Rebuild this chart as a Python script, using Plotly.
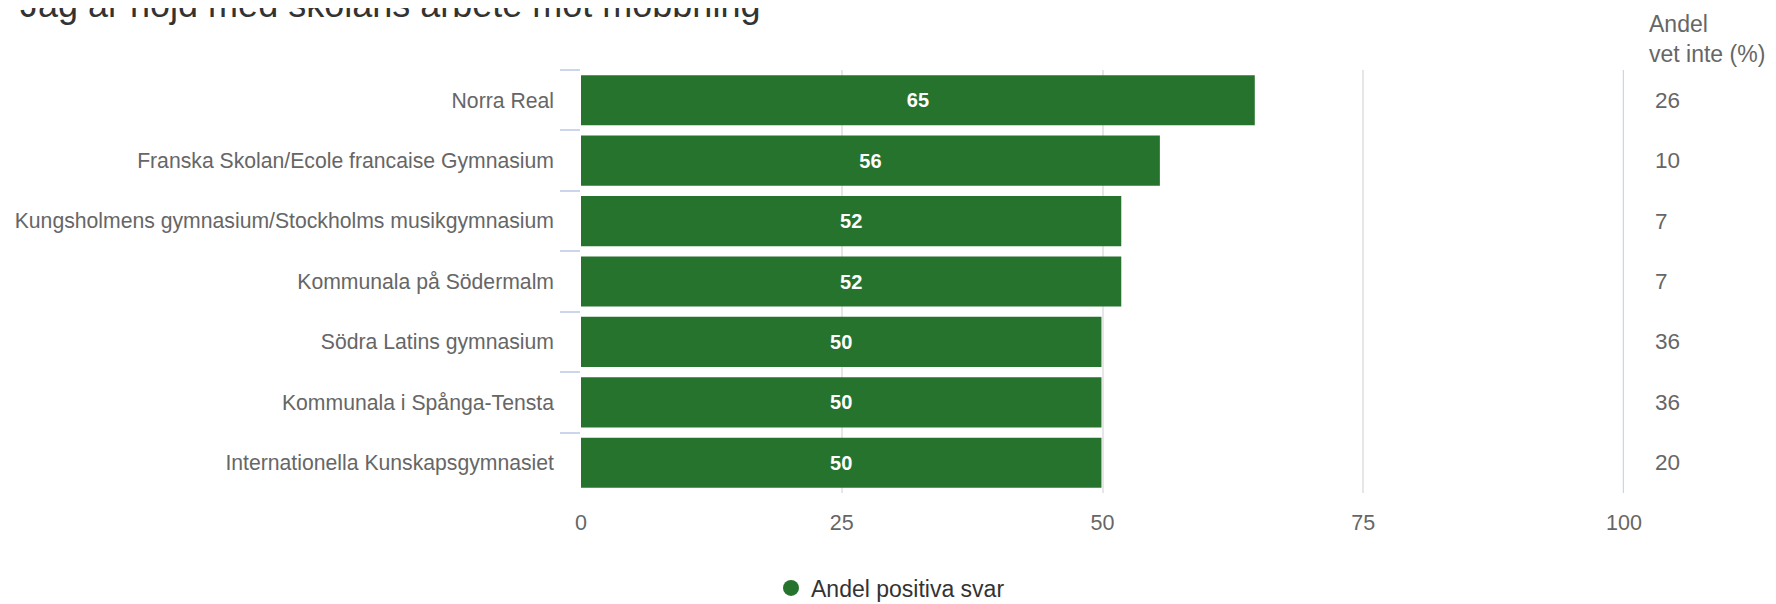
import plotly.graph_objects as go

# ---- data ----
schools = [
    "Norra Real",
    "Franska Skolan/Ecole francaise Gymnasium",
    "Kungsholmens gymnasium/Stockholms musikgymnasium",
    "Kommunala på Södermalm",
    "Södra Latins gymnasium",
    "Kommunala i Spånga-Tensta",
    "Internationella Kunskapsgymnasiet",
]
positive = [64.6, 55.5, 51.8, 51.8, 49.9, 49.9, 49.9]      # bar lengths as drawn
positive_labels = [65, 56, 52, 52, 50, 50, 50]            # rounded labels shown
dont_know = [26, 10, 7, 7, 36, 36, 20]
x_ticks = [0, 25, 50, 75, 100]
title_text = "Jag är nöjd med skolans arbete mot mobbning"
series_name = "Andel positiva svar"
side_header = "Andel<br>vet inte (%)"

GREEN = "#26732e"
FONT = "Liberation Sans, Arial, sans-serif"

OFF = 8  # page body margin
W, H = 1776 - OFF, 604 - OFF
PL, PR, PT, PB = 581, 1624, 70, 493   # plot area in page pixels
ML, MT = PL - OFF, PT - OFF
MR = OFF + W - PR
MB = OFF + H - PB
plot_w = PR - PL
plot_h = PB - PT


def px_x(p):
    return (p - PL) / plot_w


def px_y(p):
    return (PB - p) / plot_h


fig = go.Figure()
fig.add_trace(go.Bar(
    y=schools, x=positive, orientation="h",
    marker=dict(color=GREEN, line=dict(width=0)),
    text=positive_labels, texttemplate="<b>%{text}</b>",
    textposition="inside", insidetextanchor="middle",
    textfont=dict(color="white", size=20, family=FONT),
    showlegend=False, hoverinfo="x+y",
))
# legend entry with a round symbol
fig.add_trace(go.Scatter(
    x=[None], y=[None], mode="markers", name=series_name,
    marker=dict(color=GREEN, size=22, symbol="circle"),
    showlegend=True,
))

# right-hand "vet inte" column
for s, v in zip(schools, dont_know):
    fig.add_annotation(
        x=px_x(1653), xref="paper", y=s, yref="y",
        text=str(v), showarrow=False, xanchor="left", yanchor="middle",
        font=dict(size=22.5, color="#666666", family=FONT),
    )
fig.add_annotation(
    x=px_x(1647), xref="paper", y=px_y(39), yref="paper",
    text=side_header, showarrow=False, xanchor="left", yanchor="middle", align="left",
    font=dict(size=23, color="#666666", family=FONT),
)

# right border line at 100
fig.add_shape(type="line", xref="x", yref="paper", x0=100, x1=100, y0=0, y1=1,
              line=dict(color="#ccd6eb", width=2.5), layer="above")

fig.update_layout(
    width=W, height=H,
    margin=dict(l=ML, r=MR, t=MT, b=MB, pad=0, autoexpand=False),
    paper_bgcolor="white", plot_bgcolor="white",
    font=dict(family=FONT, color="#666666"),
    bargap=0.17,
    title=dict(text=title_text, x=(20 - OFF) / W, xanchor="left", xref="container",
               y=1 - 9 / H, yref="container", yanchor="bottom",
               font=dict(size=36, color="#333333", family=FONT)),
    xaxis=dict(range=[0, 100], tickvals=x_ticks, showgrid=True, automargin=False,
               gridcolor="#e6e6e6", gridwidth=2, zeroline=False,
               showline=False, ticks="", ticklabelstandoff=14,
               tickfont=dict(size=21.5, color="#666666", family=FONT)),
    yaxis=dict(autorange="reversed", tickson="boundaries", ticks="outside",
               automargin=False,
               ticklen=20, tickwidth=2, tickcolor="#ccd6eb", showgrid=False,
               showline=False, zeroline=False, ticklabelstandoff=26,
               tickfont=dict(size=21.2, color="#666666", family=FONT)),
    legend=dict(orientation="h", x=px_x(771), xanchor="left",
                y=px_y(588), yanchor="middle",
                font=dict(size=23, color="#333333", family=FONT)),
)

fig.write_html("out.html")
